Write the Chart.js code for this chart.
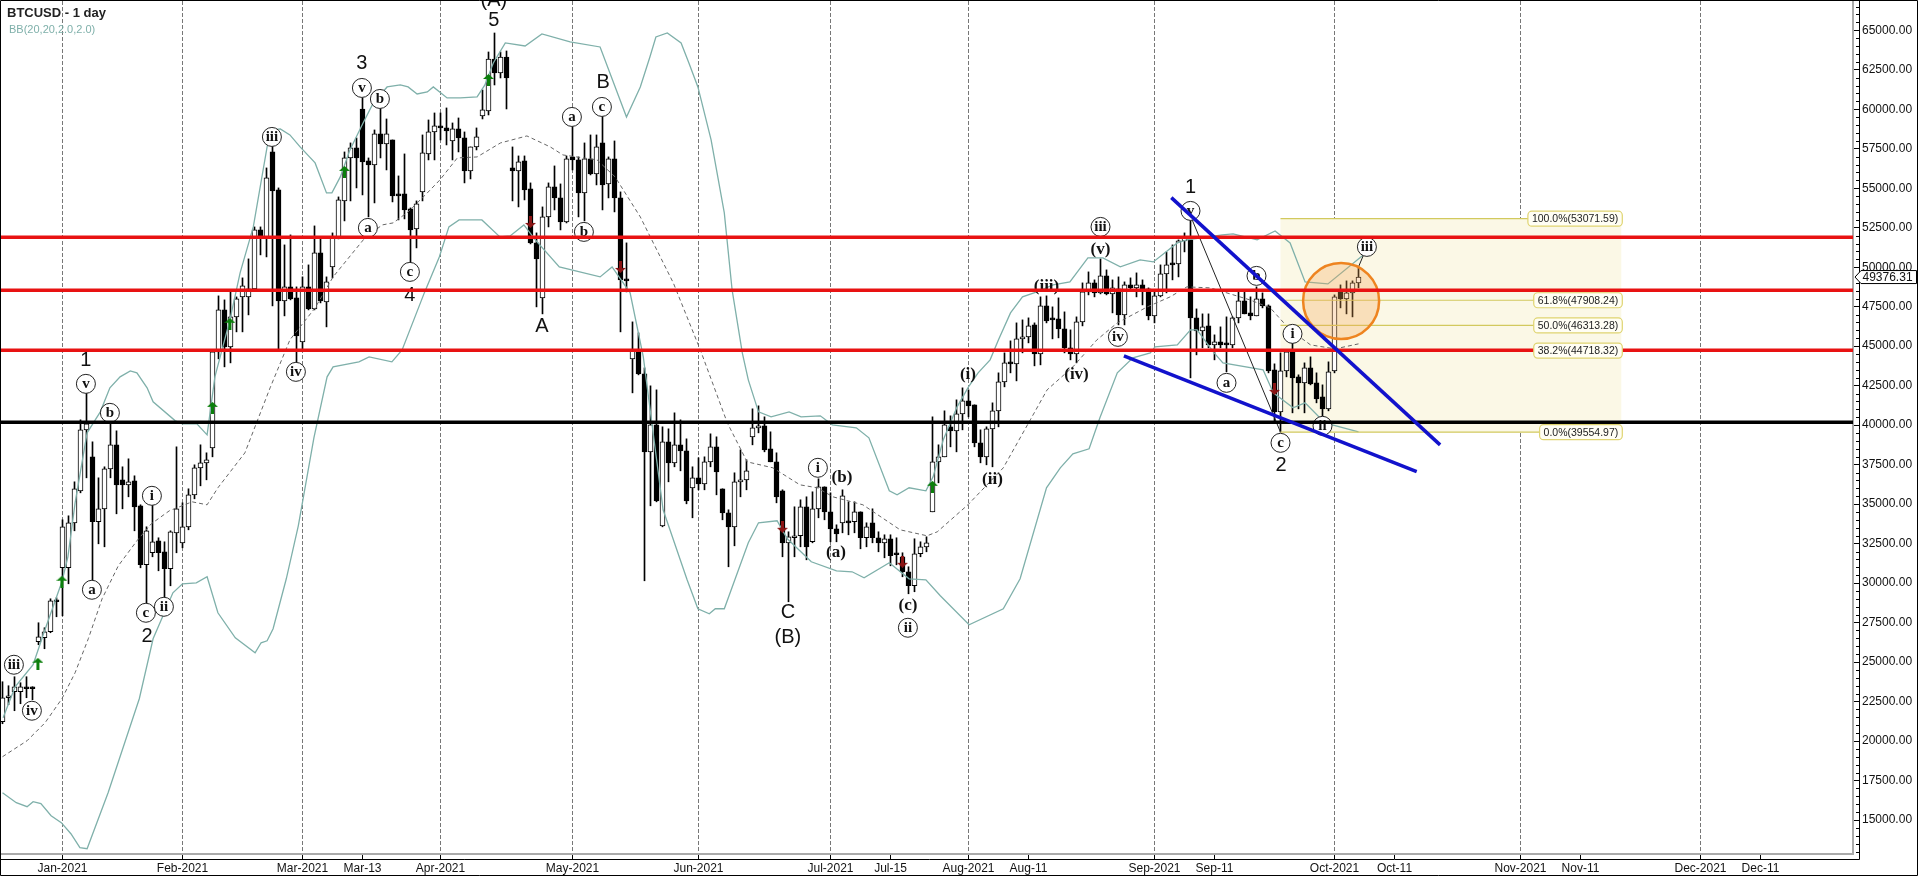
<!DOCTYPE html>
<html>
<head>
<meta charset="utf-8">
<title>BTCUSD - 1 day</title>
<style>
  html, body { margin: 0; padding: 0; background: #fff; overflow: hidden; }
  canvas { display: block; }
</style>
<script src="https://cdn.jsdelivr.net/npm/chart.js@4/dist/chart.umd.min.js"></script>
</head>
<body>
<canvas id="btcChart" width="1918" height="876"></canvas>
<script>
// --- Candles, one row per ten sessions ---
const opens = [
  21223,22742,23121,23121,23438,23375,26286,26539,26919,28881,
  30969,30969,33817,35843,39703,37994,33881,34703,37235,38754,
  36539,36222,36475,34893,31159,31919,32678,31982,30906,33184,
  32551,33564,35589,37298,37615,38564,44640,47298,44956,46855,
  48121,48121,48627,52361,51918,57298,54893,47868,48754,48057,
  45273,48754,47361,50906,47804,50020,51918,54197,56918,57551,
  60019,56729,56475,58437,57805,58057,54640,54640,53691,52424,
  54767,57172,58564,58943,58817,57994,58753,58184,56095,57614,
  59576,59893,63184,62298,63311,56285,56095,56729,54956,51539,
  48057,53185,55083,54387,52868,56982,56792,54703,56855,55906,
  57868,55273,56855,54387,49197,44197,44766,43248,38311,40020,
  33627,38944,37615,38754,38374,36033,36665,36285,37678,38627,
  35970,34450,33564,36412,36539,39260,39830,39956,38501,37678,
  35843,32551,32868,32995,34830,32615,34703,36096,34513,33437,
  33817,33881,33881,34513,32868,33817,32868,32551,32805,31856,
  31666,30716,29830,31856,32298,34513,37678,37994,39893,39640,
  40716,41539,41286,38881,37994,39766,40906,42741,43943,43881,
  45463,45589,46348,44514,47551,46728,46728,46095,44893,44514,
  46538,48437,49007,48374,49450,48311,48627,46981,48880,48690,
  48880,48627,46918,48184,49577,50209,50209,51665,51729,46792,
  45969,46285,45083,45273,45146,45083,46792,47868,47108,46918,
  47994,47551,43500,40843,43437,44640,43058,42678,43627,42678,
  41792,41033,43437,48437,47994,48374,49007
];
const closes = [
  22742,22868,23438,23438,23311,23311,26602,26919,28881,28817,
  33564,33817,35970,39703,40083,33881,34703,37235,38754,36222,
  36222,36412,34830,31159,33311,32615,31919,30906,33248,34703,
  33564,35589,37298,37615,37805,44640,47298,44956,46855,47994,
  48817,48627,52361,51982,55653,54830,47868,48754,47994,45652,
  48754,47361,50906,47868,49070,51855,54260,56918,57551,56918,
  56665,56475,58437,57805,58437,54513,54513,53627,52361,54007,
  57235,58564,58943,58817,58627,58753,58184,56095,57614,58247,
  59956,63184,62298,63311,61981,56095,56665,54893,51539,50526,
  53185,55083,54387,52868,56855,56792,54703,56855,55906,57614,
  55210,56855,54387,49197,49134,44703,43248,38311,40020,35209,
  38944,37615,38754,38374,35209,36665,36285,37678,38627,37045,
  34450,33564,36412,36539,37108,39830,39956,38437,37678,35463,
  32551,32931,32995,34830,32298,34703,36096,34513,33437,33121,
  35526,33817,34513,32868,33564,32868,32551,32805,31729,31792,
  30716,29830,31856,32298,32551,37678,37994,40020,39640,40716,
  41539,41222,38881,37994,39766,40906,42741,43943,43881,45463,
  45589,46285,44514,47551,46602,46665,46095,44893,44514,46538,
  48437,49007,48374,49450,48311,48690,46981,48880,48690,48880,
  48627,46918,48184,49577,50146,50146,51665,51918,46792,45969,
  46222,45083,45273,45083,45083,46792,47868,47045,46918,47994,
  47551,43437,40843,43437,44640,42994,42678,43627,42615,41665,
  41033,43374,48121,47994,48374,49007,49376
];
const highs = [
  23754,23501,24071,23691,24071,23438,27489,27172,29007,29070,
  34007,34260,36412,40336,42045,38944,36665,37362,40146,39640,
  37362,37868,36792,34957,33564,34957,32868,32615,33311,38627,
  35083,35970,37488,38754,38248,44766,48184,47931,48437,48121,
  49324,50526,52551,52551,56285,57868,55020,51412,52045,48754,
  49387,50146,52614,51855,49387,52171,54450,57298,57868,58184,
  60716,56918,58690,60146,59386,58057,55779,57172,53754,54197,
  58374,59323,59766,59766,60083,59133,59449,58564,57614,58817,
  61222,63627,64829,63627,63690,57614,57045,57045,55337,52171,
  53817,55337,56412,55273,57045,59007,56982,57868,58374,58374,
  59640,56982,57994,54767,51539,46538,45842,43627,42488,42234,
  39893,39766,40779,40336,39133,37362,37931,37994,39450,39260,
  35970,34640,36982,38437,37805,41033,41222,40526,39577,38248,
  35906,33248,34830,35273,35463,35780,36602,36096,35716,33690,
  35906,35146,35146,34513,33817,34703,33248,33058,33058,32868,
  31919,31033,32805,32615,32931,40526,38754,40906,40590,41602,
  42361,42234,41286,39703,39893,41412,43311,44577,45336,46475,
  46665,46792,46475,48121,48184,47488,48057,47172,46032,46855,
  49007,49703,49197,50526,49830,49197,49387,49070,49324,49640,
  49197,48690,48564,50146,50969,51412,51729,52171,52994,47361,
  47045,47045,45716,46222,46855,46855,48437,48437,48121,48754,
  48374,47614,43881,44577,44766,45209,43185,43943,44323,43311,
  42551,44007,48247,48880,49134,49134,50020
];
const lows = [
  21095,22299,21919,22362,22742,22615,26096,25843,26856,27868,
  27931,29957,33311,35716,36665,30210,32488,32298,36665,34387,
  34703,35463,33311,30969,28754,31666,30779,29134,29830,31919,
  32235,33374,35336,36159,36539,37994,44197,43691,43943,45906,
  45906,46981,48564,50779,50652,47551,44830,46918,47931,44007,
  44766,47298,47298,47741,46222,49324,51792,52931,54197,55020,
  54577,53185,54070,56918,56159,54134,52994,53057,50336,51222,
  54197,56792,56792,58057,57741,56792,57298,55337,55589,57425,
  59386,59640,61538,61981,60019,54197,53817,54260,51475,47488,
  47045,52551,53627,52361,52804,56159,53185,52931,55842,55210,
  53627,54387,53501,45906,48437,42045,43185,30146,34893,35146,
  33564,36412,37362,37108,35020,34134,35906,35906,37362,35589,
  34007,31033,32361,35463,35906,38754,39513,38311,37678,35083,
  31666,28817,31666,32298,31475,32551,34134,34007,32615,32615,
  33184,33058,33184,32172,32298,32551,31982,31602,31096,31159,
  30400,29324,29451,31666,31982,34513,36349,37994,38627,38311,
  39703,40526,38627,37615,37488,37362,39893,42425,43311,42804,
  44577,45209,43754,43817,46475,45463,45526,44577,44134,43943,
  46285,48247,48121,48311,48247,47108,46348,46348,48501,48121,
  47614,46665,46475,48121,48374,49197,49387,50969,42994,44450,
  44893,44893,44134,44893,43374,44893,46475,47045,46665,46918,
  47425,43311,40209,39555,43058,40779,41033,40779,42551,41412,
  40526,40906,43311,47425,47045,46855,48690
];

// --- Bollinger band vertices: session position, then price ---
const upperX = [0.1,2.1,5.1,6.9,9.9,10.9,12.1,14.1,16.3,17.9,19.6,21.3,22.4,24.1,25.1,28.8,30,32.4,34.1,35.4,37.9,39.6,41.8,44.1,44.9,46.3,47.9,49.6,52.1,54,54.9,56.3,57.9,60.1,61.8,64.1,66.3,67.6,69.1,70.8,71.8,74.1,76.3,79.1,80.4,81.8,83.8,87.1,89.9,94.6,99.6,104,106.3,107.9,108.9,110.8,113.1,114.4,115.9,118.1,120.3,121.6,123.3,124.3,126,128.1,131.1,133.1,136.3,138.3,142.3,144.4,147.8,149.1,151.1,153.9,155.1,156.8,159.1,161,162.6,164.6,166,168,170,172.4,175.1,177.9,180.9,183.4,186.3,189.6,191.8,195.8,197.4,203.3,205.1,209.1,212.1,214.6,217.1,220.9,226.8];
const upperY = [21476,23438,24830,26856,30083,31666,35083,39513,40842,42361,43058,43437,43311,42361,41476,40273,40083,40083,39387,43058,46665,49640,52551,57614,58690,58753,58374,57614,56602,54703,54703,55716,57425,59133,60399,61412,61538,61412,60969,61095,61412,60716,60716,60779,61538,62931,64197,64007,64766,64260,63943,59513,61412,63310,64576,64830,64197,62931,61412,58057,53437,48564,44577,42868,40842,40526,40842,40526,40589,40020,39830,39197,35843,35589,36033,35843,36729,39070,41159,42425,43311,44134,45400,47108,48121,48437,48880,49070,50589,50589,50020,50463,50336,51539,51729,52045,52108,51729,52298,51539,49070,48943,50779];
const middleX = [0,4.1,7.1,9.9,12.1,14.3,16.6,19.3,22.4,24.8,27.8,31.6,34.1,35.9,40.4,44.6,47.9,52.1,55.1,60.4,63.3,65.1,67.6,70.8,72.9,75.8,79.1,83,87.4,91.3,93.4,99.1,102.1,106.3,111.8,116.3,120.8,124.1,128.4,132.9,135.8,138.4,143.4,149.6,154.1,155.8,160.9,166.8,171.3,174.1,178.4,182.4,185.8,190.8,194.6,197.4,201.3,207.9,211.3,214.6,218,222.1,226];
const middleY = [19007,20021,21160,22678,24324,26477,29007,31096,32678,33754,34576,35146,34957,36033,38248,42361,45400,47425,49387,51855,52678,52804,53501,54703,55526,56918,56981,57868,58311,57614,57108,56792,55716,53184,49007,44766,40146,37678,37298,36222,36033,35463,34957,33374,32994,33248,34957,37298,40336,42235,43690,45400,46475,47488,48121,48754,48691,47931,47424,46032,45083,44830,45146];
const lowerX = [0,2.3,4.1,5.1,6.4,8.1,9.8,11.4,12.9,14.1,17.6,22.8,25.1,28.4,30,32.3,34.1,35.9,38.8,42.1,43.1,44.1,45.1,47.3,49.3,51.9,54.1,55.1,59.4,61.1,64.9,66.6,70.3,72.8,74.4,76.1,79.9,82.9,84.6,86.9,88.8,92.8,99.6,101.6,104.6,106.8,110.1,114.1,115.9,117.8,118.8,120.3,122.3,124.3,126,129.1,130.8,134.8,139,141.6,143.6,147.8,151.1,153.9,156.3,161.1,166.8,169.6,174,176.3,178.4,181.1,182.9,185.8,188.4,191.3,192.1,195.8,198,199.1,201.8,203.4,210.1,211.8,215.1,217.1,220.4,226];
const lowerY = [16730,16096,15843,16159,16033,15273,14830,14133,13247,13184,16730,22678,26476,29387,29957,30020,30400,28121,26539,25590,26222,26349,27108,30273,33628,39197,43058,43691,44007,44323,44007,44766,48374,50652,52551,52994,52994,51918,51982,52678,51729,50020,49387,50020,48374,44324,34640,30210,28374,28058,28374,28374,30463,32552,33817,33944,32805,31349,30779,30716,30336,31286,30273,30210,29197,27362,28374,30273,36033,37298,38185,38501,40463,43311,44261,44577,44956,45083,46033,46033,44640,43944,43501,42045,41096,41412,40146,39577];

// --- Axis ---
const dateTickPos = [10,30,50,60,73,95,116,138,148,161,171,192,202,222,232,253,263,283,293];
const dateTickLabels = ['Jan-2021','Feb-2021','Mar-2021','Mar-13','Apr-2021','May-2021','Jun-2021','Jul-2021','Jul-15','Aug-2021','Aug-11','Sep-2021','Sep-11','Oct-2021','Oct-11','Nov-2021','Nov-11','Dec-2021','Dec-11'];
const noDashTicks = ['Mar-13','Jul-15','Aug-11','Sep-11','Oct-11','Nov-11','Dec-11'];
const priceTicks = [15000,17500,20000,22500,25000,27500,30000,32500,35000,37500,40000,42500,45000,47500,50000,52500,55000,57500,60000,62500,65000];
const lastPrice = 49376.31;

// --- Horizontal levels and trend lines ---
const redLevels = [51900,48544,44747];
const blackLevel = 40190;
const wedgeUpperX = [194.8,239.6];
const wedgeUpperY = [54405,38753];
const wedgeLowerX = [186.9,235.7];
const wedgeLowerY = [44392,37063];
const swingX = [198.2,213];
const swingY = [53071,39555];
const tailX = [226,227.4];
const tailY = [50020,51285];
const circleCentre = [223.1,47867];

// --- Fibonacci levels ---
const fibText = ['100.0%(53071.59)','61.8%(47908.24)','50.0%(46313.28)','38.2%(44718.32)','0.0%(39554.97)'];
const fibValues = [53071.59,47908.24,46313.28,44718.32,39554.97];
const fibFromX = 213;
const fibToX = 269.8;

// --- Wave counts ---
const circledText = ['iii','iv','v','b','a','i','c','ii','iii','iv','v','b','a','c','a','c','b','i','ii','iii','iv','v','b','a','c','i','ii','iii'];
const circledX = [1.9,4.9,13.9,17.9,14.9,24.9,23.9,26.9,44.9,48.9,59.9,62.9,60.9,67.9,94.9,99.9,96.9,135.9,150.9,183,185.9,198,209,204,213,215,220,227.4];
const circledY = [24830,21919,42615,40779,29577,35526,28121,28500,58247,43374,61349,60652,52488,49703,59513,60146,52235,37299,27172,52551,45589,53564,49450,42678,38880,45779,39956,51285];
const parenText = ['(b)','(a)','(c)','(ii)','(i)','(iii)','(v)','(iv)'];
const parenX = [139.9,138.9,150.9,165,160.9,174,183,179];
const parenY = [36665,31919,28564,36539,43184,48754,51096,43184];
const plainText = ['1','2','3','4','5','(A)','A','B','C','(B)','1','2'];
const plainX = [13.9,24.1,59.9,67.9,81.9,81.9,89.9,100.1,130.9,130.9,198,213.1];
const plainY = [44071,26602,62867,48184,65589,66855,46222,61665,28121,26540,55020,37425];

// --- Signal arrows ---
const upArrowX = [5.9,9.9,35,37.9,57,81,155];
const upArrowY = [24893,30083,41096,46412,56032,61855,36096];
const downArrowX = [88,103,130,150,212];
const downArrowY = [52868,50020,33564,31349,42298];

// six pixels a session, with candle centres on pixel centres so the bars stay sharp
const xMin = -2.5 / 6;
const xMax = xMin + 1853 / 6;
const yMin = 12848;
const yMax = 66854;

const SANS = '"Liberation Sans", Arial, sans-serif';
const SERIF = '"Liberation Serif", "Times New Roman", serif';

function pairs(xs, ys) {
    return xs.map((x, i) => ({ x: x, y: ys[i] }));
}

function levelLine(value) {
    return [{ x: xMin, y: value }, { x: xMax, y: value }];
}

function makeArrow(color, up) {
    const c = document.createElement('canvas');
    c.width = 11;
    c.height = 12;
    const g = c.getContext('2d');
    g.fillStyle = color;
    if (!up) {
        g.translate(0, 12);
        g.scale(1, -1);
    }
    g.beginPath();
    g.moveTo(5.5, 0);
    g.lineTo(11, 5);
    g.lineTo(8, 5);
    g.lineTo(7, 4.5);
    g.lineTo(7, 12);
    g.lineTo(4, 12);
    g.lineTo(4, 4.5);
    g.lineTo(3, 5);
    g.lineTo(0, 5);
    g.closePath();
    g.fill();
    return c;
}

function lineSet(label, data, color, width, order, extra) {
    return Object.assign({
        type: 'line',
        label: label,
        data: data,
        borderColor: color,
        borderWidth: width,
        pointRadius: 0,
        tension: 0,
        order: order
    }, extra || {});
}

function pointSet(label, data, order, extra) {
    return Object.assign({
        type: 'line',
        label: label,
        data: data,
        showLine: false,
        order: order
    }, extra);
}

const candleIndex = opens.map((_, i) => i);

const datasets = [
    {
        type: 'bar',
        label: 'wicks',
        data: candleIndex.map(i => ({ x: i, y: [lows[i], highs[i]] })),
        backgroundColor: '#000',
        barThickness: 1,
        grouped: false,
        order: 20
    },
    {
        type: 'bar',
        label: 'bodies',
        data: candleIndex.map(i => ({ x: i, y: [opens[i], closes[i]] })),
        backgroundColor: candleIndex.map(i => closes[i] >= opens[i] ? '#fff' : '#000'),
        borderColor: '#000',
        borderWidth: 1,
        borderSkipped: false,
        barThickness: 5,
        minBarLength: 2,
        grouped: false,
        order: 19
    },
    lineSet('BB upper', pairs(upperX, upperY), '#7fb0aa', 1.3, 18),
    lineSet('BB lower', pairs(lowerX, lowerY), '#7fb0aa', 1.3, 18),
    lineSet('BB middle', pairs(middleX, middleY), '#666', 1, 18, { borderDash: [4, 3] }),
    lineSet('swing', pairs(swingX, swingY), '#222', 1, 16),
    lineSet('tail', pairs(tailX, tailY), '#222', 1, 16)
];

fibValues.forEach((v, n) => {
    datasets.push(lineSet('fib ' + n, [{ x: fibFromX, y: v }, { x: fibToX, y: v }], '#d2c95e', 1.2, 15));
});

datasets.push(
    pointSet('up arrows', pairs(upArrowX, upArrowY), 14, { pointStyle: makeArrow('#0b7f0b', true) }),
    pointSet('down arrows', pairs(downArrowX, downArrowY), 14, { pointStyle: makeArrow('#8a1414', false) }),
    pointSet('wave circles', pairs(circledX, circledY), 12, {
        pointRadius: 9.5,
        pointBackgroundColor: '#fff',
        pointBorderColor: '#222',
        pointBorderWidth: 1
    }),
    pointSet('target circle', [{ x: circleCentre[0], y: circleCentre[1] }], 11, {
        pointRadius: 38,
        pointBackgroundColor: 'rgba(245,165,85,0.30)',
        pointBorderColor: '#ee8420',
        pointBorderWidth: 2.5
    })
);

redLevels.forEach((v, n) => {
    datasets.push(lineSet('level ' + n, levelLine(v), '#e81212', 3.5, 5));
});
datasets.push(lineSet('support', levelLine(blackLevel), '#000', 3.5, 5));
datasets.push(lineSet('wedge upper', pairs(wedgeUpperX, wedgeUpperY), '#1212cc', 3.5, 3));
datasets.push(lineSet('wedge lower', pairs(wedgeLowerX, wedgeLowerY), '#1212cc', 3.5, 3));

function drawWaveText(ctx, xs, ys, texts, font) {
    const x = ctx.chart.scales.x;
    const y = ctx.chart.scales.y;
    const g = ctx.chart.ctx;
    g.save();
    g.font = font;
    g.fillStyle = '#111';
    g.textAlign = 'center';
    g.textBaseline = 'middle';
    texts.forEach((t, i) => {
        g.fillText(t, x.getPixelForValue(xs[i]), y.getPixelForValue(ys[i]));
    });
    g.restore();
}

const overlays = {
    id: 'overlays',
    beforeDatasetsDraw(chart) {
        // pale fibonacci box behind the candles
        const { ctx, scales } = chart;
        const left = scales.x.getPixelForValue(fibFromX);
        const right = scales.x.getPixelForValue(fibToX);
        const top = scales.y.getPixelForValue(fibValues[0]);
        const bottom = scales.y.getPixelForValue(fibValues[4]);
        ctx.fillStyle = '#fbf8e6';
        ctx.fillRect(left, top, right - left, bottom - top);
    },
    afterDatasetDraw(chart, args) {
        // wave counts sit under the red levels, so draw them right after the circles
        if (chart.data.datasets[args.index].label !== 'wave circles') return;
        const c = { chart: chart };
        drawWaveText(c, circledX, circledY, circledText, 'bold 15px ' + SERIF);
        drawWaveText(c, parenX, parenY, parenText, 'bold 17px ' + SERIF);
        drawWaveText(c, plainX, plainY, plainText, '20px ' + SANS);
    },
    afterDraw(chart) {
        const { ctx, scales, chartArea } = chart;
        const y = scales.y;
        const x = scales.x;

        // fibonacci tags
        ctx.save();
        ctx.font = '10.5px ' + SANS;
        ctx.textBaseline = 'middle';
        ctx.textAlign = 'left';
        const tagRight = x.getPixelForValue(fibToX) + 1;
        fibText.forEach((t, i) => {
            const w = ctx.measureText(t).width + 8;
            const py = y.getPixelForValue(fibValues[i]);
            ctx.beginPath();
            ctx.roundRect(tagRight - w, py - 7.5, w, 15, 4);
            ctx.fillStyle = '#fffef4';
            ctx.fill();
            ctx.strokeStyle = '#dfd470';
            ctx.lineWidth = 1.2;
            ctx.stroke();
            ctx.fillStyle = '#222';
            ctx.fillText(t, tagRight - w + 4, py + 0.5);
        });
        ctx.restore();

        // black axis rails, minor price ticks and the outer frame
        ctx.save();
        ctx.strokeStyle = '#000';
        ctx.lineWidth = 1;
        const railX = 1859.5;
        const railY = 859.5;
        ctx.beginPath();
        ctx.moveTo(railX, 0);
        ctx.lineTo(railX, railY);
        ctx.lineTo(0, railY);
        ctx.rect(0.5, 0.5, chart.width - 1, chart.height - 1);
        for (let v = 13000; v <= yMax; v += 500) {
            if (v % 2500 === 0) continue;
            const py = Math.round(y.getPixelForValue(v)) + 0.5;
            ctx.moveTo(railX - 3.5, py);
            ctx.lineTo(railX, py);
        }
        ctx.stroke();

        // last price tag
        const tagY = y.getPixelForValue(lastPrice);
        ctx.beginPath();
        ctx.moveTo(1855, tagY);
        ctx.lineTo(1861, tagY - 6.5);
        ctx.lineTo(1916.5, tagY - 6.5);
        ctx.lineTo(1916.5, tagY + 6.5);
        ctx.lineTo(1861, tagY + 6.5);
        ctx.closePath();
        ctx.fillStyle = '#fff';
        ctx.fill();
        ctx.stroke();
        ctx.fillStyle = '#111';
        ctx.font = '12px ' + SANS;
        ctx.textBaseline = 'middle';
        ctx.textAlign = 'left';
        ctx.fillText(lastPrice.toFixed(2), 1862.5, tagY + 0.5);

        // legend text, top left
        ctx.fillStyle = '#222';
        ctx.font = 'bold 13px ' + SANS;
        ctx.fillText('BTCUSD - 1 day', chartArea.left + 7, 13);
        ctx.fillStyle = '#7fb0aa';
        ctx.font = '11px ' + SANS;
        ctx.fillText('BB(20,20,2.0,2.0)', chartArea.left + 9, 30);
        ctx.restore();
    }
};

new Chart(document.getElementById('btcChart'), {
    data: { datasets: datasets },
    plugins: [overlays],
    options: {
        responsive: false,
        devicePixelRatio: 1,
        animation: false,
        // the big target circle would otherwise push the plot in by its radius
        layout: { autoPadding: false, padding: { top: 1 } },
        plugins: {
            legend: { display: false },
            title: { display: false },
            tooltip: { enabled: false }
        },
        scales: {
            x: {
                type: 'linear',
                min: xMin,
                max: xMax,
                offset: false,
                afterBuildTicks: scale => {
                    scale.ticks = dateTickPos.map(v => ({ value: v }));
                },
                afterFit: scale => {
                    scale.height = 22;
                    scale.paddingLeft = 0;
                    scale.paddingRight = 0;
                },
                grid: {
                    offset: false,
                    color: ctx => {
                        const label = dateTickLabels[dateTickPos.indexOf(ctx.tick ? ctx.tick.value : -1)];
                        return noDashTicks.includes(label) ? 'rgba(0,0,0,0)' : '#777';
                    },
                    tickColor: '#000',
                    tickLength: 5,
                    lineWidth: 1
                },
                border: { color: '#aaa', width: 2, dash: [4, 2] },
                ticks: {
                    autoSkip: false,
                    maxRotation: 0,
                    padding: 2,
                    color: '#111',
                    font: { family: 'Liberation Sans', size: 12 },
                    callback: v => dateTickLabels[dateTickPos.indexOf(v)]
                }
            },
            y: {
                type: 'linear',
                position: 'right',
                min: yMin,
                max: yMax,
                afterBuildTicks: scale => {
                    scale.ticks = priceTicks.map(v => ({ value: v }));
                },
                afterFit: scale => {
                    scale.width = 65;
                    scale.paddingTop = 0;
                    scale.paddingBottom = 0;
                },
                grid: {
                    drawOnChartArea: false,
                    tickColor: '#000',
                    tickLength: 6,
                    lineWidth: 1
                },
                border: { color: '#aaa', width: 2 },
                ticks: {
                    autoSkip: false,
                    padding: 3,
                    color: '#111',
                    font: { family: 'Liberation Sans', size: 12 },
                    callback: v => Number(v).toFixed(2)
                }
            }
        }
    }
});
</script>
</body>
</html>
